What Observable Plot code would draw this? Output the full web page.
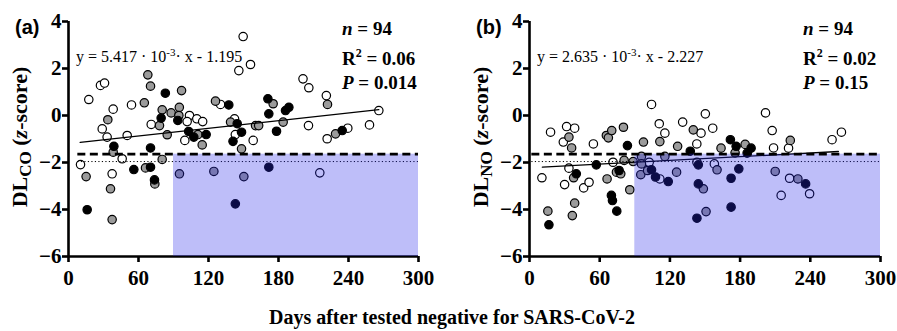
<!DOCTYPE html>
<html>
<head>
<meta charset="utf-8">
<script src="https://cdn.jsdelivr.net/npm/d3@7"></script>
<script src="https://cdn.jsdelivr.net/npm/@observablehq/plot@0.6"></script>
<style>
  html, body { margin: 0; padding: 0; background: #fff; }
  #fig { position: relative; width: 897px; height: 331px; overflow: hidden; font-family: "Liberation Serif", "Times New Roman", serif; color: #000; }
  #fig svg { position: absolute; top: 0; }
  .ann { position: absolute; white-space: nowrap; line-height: 1; }
  .plab { font-family: "Liberation Sans", Arial, sans-serif; font-weight: bold; font-size: 20px; }
  .eq { font-size: 16px; }
  .stats { font-weight: bold; font-size: 19px; line-height: 24px; }
  .ylab { font-weight: bold; font-size: 22px; transform: translate(-50%, -50%) rotate(-90deg); }
  .xtitle { font-weight: bold; font-size: 20px; transform: translateX(-50%); }
</style>
</head>
<body>
<div id="fig"></div>
<script>
// ---------- data ----------
const xTicks = [0, 60, 120, 180, 240, 300];
const yTicks = [-6, -4, -2, 0, 2, 4];
const panelLabels = ["(a)", "(b)"];
const ySubs = ["CO", "NO"];
const nValues = [94, 94];
const r2Values = ["0.06", "0.02"];
const pValues = ["0.014", "0.15"];
const slopes = [5.417, 2.635];      // ×10^-3
const intercepts = [-1.195, -2.227];
const fitRangeA = [10, 266];
const fitRangeB = [11, 264];
const llnZ = -1.645;   // dashed
const dottedZ = -1.96; // dotted
const refStartA = 8;
const refStartB = 2;
const shadeDays = [90, 300];

// Panel (a) DLCO: [days, z-score]
const coOpen = [[17.4,0.68],[27.4,1.28],[30.9,1.38],[28.9,-0.57],[33.1,-0.92],[38.3,0.27],[50.3,-0.85],[54,0.45],[46,-1.84],[10.3,-2.09],[37.4,-2.48],
  [103.7,0],[110,-0.14],[115,-0.26],[101.7,-0.26],[70.9,-0.38],[99.7,-1.06],[130.3,0.47],[146,1.91],[156,2.17],[142.3,-0.14],[143,-0.81],[158.3,-1.06],[201,1.56],[206,1.18],[205.7,-0.43],
  [149.7,3.36],[215.4,-2.44],[221,0.85],[266,0.21],[221.7,-0.99],[239.4,-0.54],[258,-0.4]];
const coGray = [[33.7,-0.18],[38.3,-1.56],[15.1,-2.6],[66,-2.23],[74,-2.91],[36,-3.12],[37.4,-4.43],
  [68,1.73],[70.3,1.25],[96.9,1.06],[65,0.54],[80.3,0.24],[88,0.11],[95,0.35],[94.6,0],[78,-0.43],[84.6,-0.82],[110.9,-0.81],[114.6,-1.25],[126,0.61],[138.9,-0.28],[148.3,-1.42],[160.3,-0.43],[163,-0.43],[175.4,0.5],[184,-0.28],[80.3,-1.87],
  [95.1,-2.48],[124.6,-2.38],[150.3,-2.6],[222,0.47],[228.9,-0.78]];
const coBlack = [[38.9,-1.31],[56,-2.3],[70.3,-2.2],[73.7,-2.74],[16,-4.01],
  [83,0.95],[79.4,-0.11],[93.7,-0.21],[103,-0.68],[107.4,-0.92],[118,-0.81],[137.4,0.45],[144.6,-0.35],[148.3,-0.71],[141,-1.1],[170.9,0.71],[171.7,0.07],[186,0.21],[188.9,0.35],[178.3,-0.67],[70.3,-1.38],
  [143,-3.76],[171.7,-2.2],[234.6,-0.64]];

// Panel (b) DLNO: [days, z-score]
const noOpen = [[18,-0.71],[31.7,-0.47],[38.6,-0.54],[28.9,-1.13],[54.6,-1.21],[104.3,0.47],[110.9,-0.35],[115.7,-0.75],[130.9,-0.28],[143,-1.21],
  [10.6,-2.65],[33.7,-2.24],[30,-2.94],[46.3,-3.08],[50.9,-2.84],[71.4,-1.99],[102.3,-1.99],[111.4,-2.7],
  [150.3,0.07],[201.7,0.11],[146.6,-0.75],[156.6,-0.54],[207.4,-0.64],[208.6,-1.38],[221.4,-1.39],[258.6,-1.03],[266.6,-0.71],
  [143.1,-1.99],[158,-2.06],[222.3,-2.67],[215.1,-3.4],[239.4,-3.33]];
const noGray = [[33.7,-0.92],[36,-1.38],[65.7,-0.85],[67.4,-0.95],[70.3,-0.64],[80.3,-0.5],[97.4,-1.13],[111.4,-1.11],[126.6,-1.31],[140,-0.61],
  [37.7,-2.65],[66.3,-2.7],[74.3,-2.41],[78,-2.48],[80.9,-1.91],[85.7,-3.16],[88.6,-1.96],[38.6,-3.73],
  [95.7,-1.74],[95.7,-2.06],[95.1,-2.52],[100.9,-2.34],[125.7,-2.41],[115.7,-1.74],[15.7,-4.07],[36.6,-4.26],
  [163.7,-1.39],[175.7,-1.59],[184.3,-1.23],[222.9,-1.06],[160.3,-2.31],[148.6,-3.12],[210,-2.38],[229.4,-2.7],[150.9,-4.09]];
const noBlack = [[83.7,-1.28],[137.4,-1.52],[40,-2.48],[57.1,-2.1],[76.6,-2.34],[70,-3.4],[70.9,-3.62],
  [104.3,-2.31],[107.7,-2.62],[118.6,-2.81],[16.6,-4.65],[74.6,-4.07],
  [171.7,-1.03],[176.6,-1.31],[186,-1.6],[189.4,-1.39],[144.3,-2.1],[178.9,-2.27],[172.3,-2.67],[144.3,-2.91],[236,-2.91],[172.3,-3.9],[143.1,-4.37]];

// ---------- drawing ----------
const fig = document.getElementById("fig");
const serif = "'Liberation Serif', 'Times New Roman', serif";

function panel({open, gray, black, slope, intercept, fitRange, refStart, width, marginLeft, marginRight}) {
  const fit = fitRange.map(d => [d, slope * 1e-3 * d + intercept]);
  const dotOpts = {x: d => d[0], y: d => d[1], r: 4.2, stroke: "#000", strokeWidth: 1.2};
  return Plot.plot({
    width, height: 300,
    marginLeft, marginRight, marginTop: 21, marginBottom: 44,
    x: {domain: [0, 300]},
    y: {domain: [-6, 4]},
    style: {fontFamily: serif, fontSize: "21px", fontWeight: "bold", background: "transparent", overflow: "visible"},
    marks: [
      Plot.ruleX([0], {y1: -6, y2: 4, stroke: "#000", strokeWidth: 2.6}),
      Plot.ruleY([-6], {x1: 0, x2: 300, stroke: "#000", strokeWidth: 2.6}),
      Plot.axisX(xTicks, {tickSize: 6, tickPadding: 8, strokeWidth: 2.6, label: null}),
      Plot.axisY(yTicks, {tickSize: 6, tickPadding: 1, strokeWidth: 2.6, label: null}),
      Plot.dot(open, {...dotOpts, fill: "#fff"}),
      Plot.dot(gray, {...dotOpts, fill: "#9b9b9b"}),
      Plot.dot(black, {...dotOpts, fill: "#000"}),
      Plot.line(fit, {x: d => d[0], y: d => d[1], stroke: "#000", strokeWidth: 1.3}),
      Plot.ruleY([dottedZ], {x1: refStart, x2: 300, stroke: "#000", strokeWidth: 1, strokeDasharray: "1.2,2.3"}),
      Plot.rect([shadeDays], {x1: d => d[0], x2: d => d[1], y1: -6, y2: llnZ, fill: "rgb(40,40,235)", fillOpacity: 0.3}),
      Plot.ruleY([llnZ], {x1: refStart, x2: 300, stroke: "#000", strokeWidth: 2.6, strokeDasharray: "8,4.5"})
    ]
  });
}

const svgA = panel({open: coOpen, gray: coGray, black: coBlack, slope: slopes[0], intercept: intercepts[0], fitRange: fitRangeA, refStart: refStartA, width: 448, marginLeft: 68, marginRight: 30});
svgA.style.left = "0px";
fig.appendChild(svgA);
const svgB = panel({open: noOpen, gray: noGray, black: noBlack, slope: slopes[1], intercept: intercepts[1], fitRange: fitRangeB, refStart: refStartB, width: 449, marginLeft: 81, marginRight: 17});
svgB.style.left = "448px";
fig.appendChild(svgB);

function ann(cls, left, top, html) {
  const d = document.createElement("div");
  d.className = "ann " + cls;
  d.style.left = left + "px";
  d.style.top = top + "px";
  d.innerHTML = html;
  fig.appendChild(d);
}
const fmtInt = v => (v < 0 ? "- " + Math.abs(v).toFixed(3) : "+ " + v.toFixed(3));
const layout = [
  {plab: 15, eq: 76, stats: 342, ylab: 21},
  {plab: 476, eq: 537, stats: 803, ylab: 482}
];
layout.forEach((L, i) => {
  ann("plab", L.plab, 17, panelLabels[i]);
  ann("eq", L.eq, 47, `y = ${slopes[i].toFixed(3)} · 10<sup style="font-size:11px;vertical-align:6px">-3</sup>· x ${fmtInt(intercepts[i])}`);
  ann("stats", L.stats, 17, `<i>n</i> = ${nValues[i]}<br>R<sup style="font-size:12px;vertical-align:8px">2</sup> = ${r2Values[i]}<br><i>P</i> = ${pValues[i]}`);
  ann("ylab", L.ylab, 137, `DL<sub style="font-size:17px;vertical-align:-4px">${ySubs[i]}</sub> (<i>z</i>-score)`);
});
ann("xtitle", 452, 307, "Days after tested negative for SARS-CoV-2");
</script>
</body>
</html>
